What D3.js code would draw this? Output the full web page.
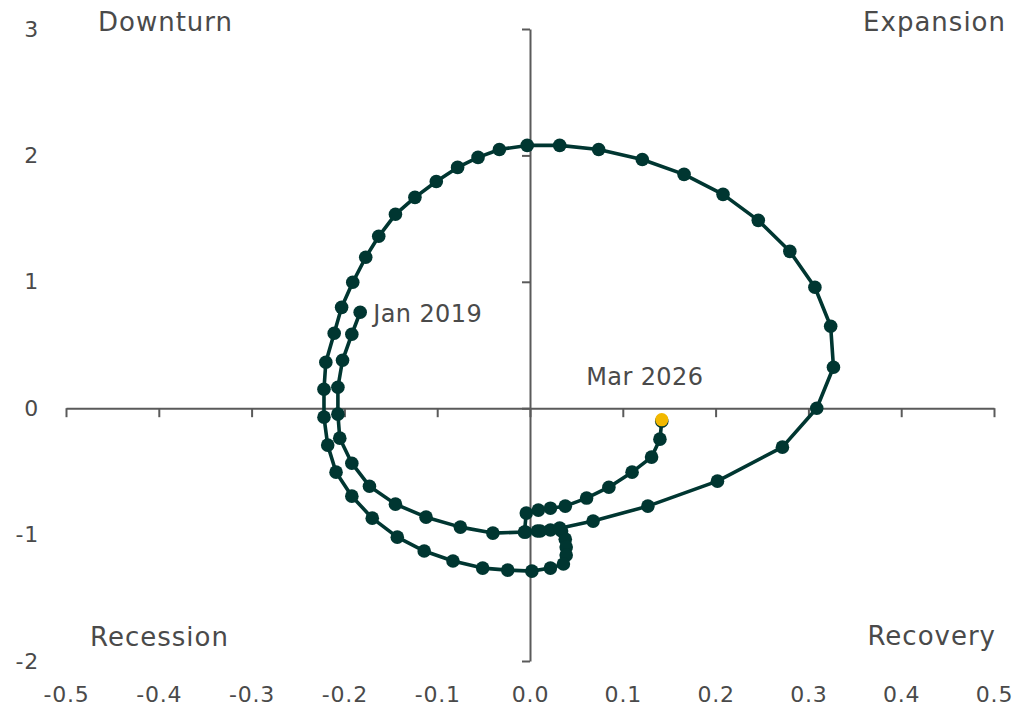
<!DOCTYPE html>
<html>
<head>
<meta charset="utf-8">
<script src="https://cdn.jsdelivr.net/npm/d3@7"></script>
<style>
  html, body { margin: 0; padding: 0; background: #ffffff; }
  svg { display: block; }
  text { font-family: "DejaVu Sans", sans-serif; fill: #4a4a4a; }
</style>
</head>
<body>
<svg id="chart" width="1018" height="714"></svg>
<script>
// ---- data ----
const xValues = [
  -0.183, -0.192, -0.202, -0.207, -0.207, -0.205, -0.192, -0.173, -0.145, -0.112,
  -0.075, -0.040, -0.005, 0.008, 0.022, 0.034, 0.038, 0.039, 0.039, 0.036,
  0.022, 0.002, -0.024, -0.051, -0.083, -0.114, -0.143, -0.170, -0.192, -0.209,
  -0.218, -0.222, -0.222, -0.220, -0.211, -0.203, -0.191, -0.177, -0.163, -0.145,
  -0.124, -0.101, -0.078, -0.056, -0.033, -0.003, 0.032, 0.074, 0.121, 0.166,
  0.208, 0.246, 0.280, 0.307, 0.324, 0.327, 0.309, 0.272, 0.202, 0.127,
  0.068, 0.032, 0.011, -0.006, -0.004, 0.009, 0.022, 0.038, 0.061, 0.085,
  0.110, 0.131, 0.140, 0.142
];
const yValues = [
  0.759, 0.585, 0.379, 0.166, -0.047, -0.237, -0.435, -0.617, -0.759, -0.862,
  -0.941, -0.988, -0.980, -0.972, -0.964, -0.972, -1.036, -1.099, -1.162, -1.233,
  -1.265, -1.289, -1.281, -1.265, -1.209, -1.130, -1.020, -0.870, -0.696, -0.506,
  -0.292, -0.071, 0.150, 0.364, 0.593, 0.798, 0.996, 1.194, 1.360, 1.534,
  1.668, 1.794, 1.905, 1.984, 2.047, 2.079, 2.079, 2.047, 1.968, 1.850,
  1.692, 1.486, 1.241, 0.957, 0.648, 0.324, 0.000, -0.308, -0.577, -0.775,
  -0.893, -0.949, -0.972, -0.980, -0.830, -0.806, -0.791, -0.775, -0.711, -0.625,
  -0.506, -0.387, -0.245, -0.103
];
const firstLabel = "Jan 2019";
const lastLabel = "Mar 2026";
const xTickValues = [-0.5, -0.4, -0.3, -0.2, -0.1, 0.0, 0.1, 0.2, 0.3, 0.4, 0.5];
const xTickLabels = ["-0.5", "-0.4", "-0.3", "-0.2", "-0.1", "0.0", "0.1", "0.2", "0.3", "0.4", "0.5"];
const yTickValues = [3, 2, 1, 0, -1, -2];
const yTickLabels = ["3", "2", "1", "0", "-1", "-2"];
const quadrants = ["Downturn", "Expansion", "Recession", "Recovery"];

// ---- drawing ----
const svg = d3.select("#chart");
const lineColor = "#003631";
const axisColor = "#5a5a5a";
const lastColor = "#f2b800";
const textColor = "#474747";

const x = d3.scaleLinear().domain([-0.5, 0.5]).range([66, 994]);
const y = d3.scaleLinear().domain([-2, 3]).range([661, 29]);

// x axis at y = 0
const xAxisG = svg.append("g")
  .attr("transform", `translate(0,${y(0)})`)
  .call(d3.axisBottom(x).tickValues(xTickValues).tickSize(9).tickSizeOuter(0).tickFormat(""));
// y axis at x = 0
const yAxisG = svg.append("g")
  .attr("transform", `translate(${x(0)},0)`)
  .call(d3.axisLeft(y).tickValues(yTickValues).tickSize(8).tickSizeOuter(0).tickFormat(""));
[xAxisG, yAxisG].forEach(g => {
  g.selectAll("path.domain").attr("stroke", axisColor).attr("stroke-width", 2);
  g.selectAll(".tick line").attr("stroke", axisColor).attr("stroke-width", 2);
});

// tick labels along the bottom and left edges
const xLab = svg.append("g")
  .attr("transform", `translate(0,${y(-2)})`)
  .call(d3.axisBottom(x).tickValues(xTickValues).tickSize(0)
    .tickFormat((d, i) => xTickLabels[i]).tickPadding(25));
const yLab = svg.append("g")
  .attr("transform", `translate(${x(-0.5)},0)`)
  .call(d3.axisLeft(y).tickValues(yTickValues).tickSize(0)
    .tickFormat((d, i) => yTickLabels[i]).tickPadding(27));
[xLab, yLab].forEach(g => {
  g.select("path.domain").remove();
  g.selectAll("text").attr("font-family", "DejaVu Sans, sans-serif")
    .attr("font-size", 22).attr("letter-spacing", 0.8).attr("fill", textColor);
});

// quadrant labels
const qFont = 26;
const qSpacing = 1;
const quadSel = [
  [quadrants[0], 98, 31, "start"],
  [quadrants[1], 1006, 31, "end"],
  [quadrants[2], 90, 646, "start"],
  [quadrants[3], 996, 645, "end"]
];
quadSel.forEach(([t, px, py, anchor]) => {
  svg.append("text").text(t).attr("x", px).attr("y", py)
    .attr("font-size", qFont).attr("letter-spacing", qSpacing)
    .attr("text-anchor", anchor).attr("fill", textColor);
});

// path
const pts = xValues.map((v, i) => [v, yValues[i]]);
const line = d3.line().x(d => x(d[0])).y(d => y(d[1]));
svg.append("path").datum(pts).attr("d", line)
  .attr("fill", "none").attr("stroke", lineColor).attr("stroke-width", 3.6)
  .attr("stroke-linejoin", "round");

svg.append("g").selectAll("circle").data(pts).join("circle")
  .attr("cx", d => x(d[0])).attr("cy", d => y(d[1])).attr("r", 6.8)
  .attr("fill", lineColor);

const last = pts[pts.length - 1];
svg.append("circle").attr("cx", x(last[0])).attr("cy", y(last[1]) - 1.5).attr("r", 6.6)
  .attr("fill", lastColor);

// annotations
const first = pts[0];
svg.append("text").text(firstLabel)
  .attr("x", x(first[0]) + 13).attr("y", y(first[1]) + 10)
  .attr("font-size", 24).attr("letter-spacing", 0.4)
  .attr("text-anchor", "start").attr("fill", textColor);
svg.append("text").text(lastLabel)
  .attr("x", x(last[0]) - 17).attr("y", y(last[1]) - 36)
  .attr("font-size", 24).attr("letter-spacing", 0.4)
  .attr("text-anchor", "middle").attr("fill", textColor);
</script>
</body>
</html>
